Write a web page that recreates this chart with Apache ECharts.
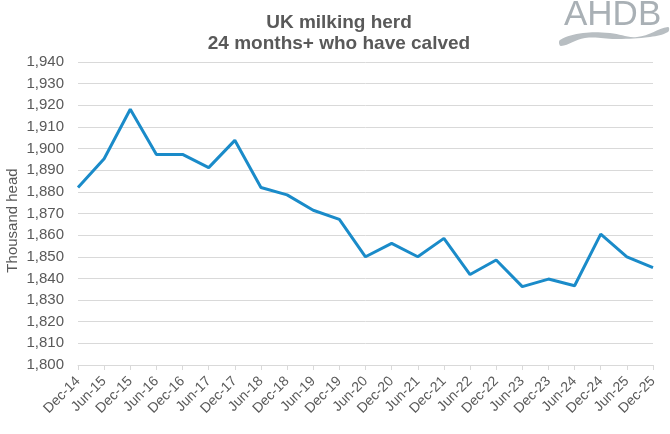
<!DOCTYPE html>
<html>
<head>
<meta charset="utf-8">
<script src="https://cdn.jsdelivr.net/npm/echarts@6/dist/echarts.min.js"></script>
<style>
  html, body { margin: 0; padding: 0; background: #fff; }
  #main { width: 670px; height: 434px; }
</style>
</head>
<body>
<div id="main"></div>
<script>
// half-yearly points, Dec-14 .. Dec-25
var periods = ['Dec-14', 'Jun-15', 'Dec-15', 'Jun-16', 'Dec-16', 'Jun-17', 'Dec-17', 'Jun-18',
  'Dec-18', 'Jun-19', 'Dec-19', 'Jun-20', 'Dec-20', 'Jun-21', 'Dec-21', 'Jun-22', 'Dec-22',
  'Jun-23', 'Dec-23', 'Jun-24', 'Dec-24', 'Jun-25', 'Dec-25'];
var herd = [1882, 1895.3, 1918.2, 1897.3, 1897.3, 1891.2, 1903.8, 1882, 1878.6, 1871.5,
  1867.3, 1850, 1856.2, 1850, 1858.5, 1841.8, 1848.5, 1836.2, 1839.7, 1836.6, 1860.5, 1850, 1845];
var yTicks = { min: 1800, max: 1940, step: 10 };

var grey = '#595959';
var myChart = echarts.init(document.getElementById('main'));

option = {
    animation: false,
    textStyle: { fontFamily: 'Liberation Sans, Arial, sans-serif' },
    title: {
        text: 'UK milking herd\n24 months+ who have calved',
        left: 334,
        textAlign: 'center',
        top: 7,
        textStyle: {
            color: grey,
            fontSize: 19,
            fontWeight: 'bold',
            lineHeight: 21
        }
    },
    grid: { left: 78, right: 17, top: 62, bottom: 69, outerBoundsMode: 'none', containLabel: false },
    xAxis: {
        type: 'category',
        data: periods,
        boundaryGap: false,
        axisLine: { lineStyle: { color: '#d9d9d9' } },
        axisTick: { show: true, length: 5, lineStyle: { color: '#d9d9d9' } },
        axisLabel: {
            interval: 0,
            rotate: 45,
            color: grey,
            fontSize: 14,
            margin: 14
        }
    },
    yAxis: {
        type: 'value',
        min: yTicks.min,
        max: yTicks.max,
        interval: yTicks.step,
        name: 'Thousand head',
        nameLocation: 'middle',
        nameGap: 58,
        nameMoveOverlap: false,
        nameTextStyle: { color: grey, fontSize: 15, padding: [0, 14, 0, 0] },
        axisLine: { show: false },
        axisTick: { show: false },
        splitLine: { lineStyle: { color: '#d9d9d9' } },
        axisLabel: {
            color: grey,
            fontSize: 15,
            margin: 14,
            formatter: function (v) { return echarts.format.addCommas(v); }
        }
    },
    graphic: [
        {
            type: 'text',
            x: 564,
            y: -2,
            style: {
                text: 'AHDB',
                fill: '#a9b0b5',
                font: '35px "Liberation Sans", Arial, sans-serif'
            }
        },
        {
            type: 'polygon',
            shape: {
                smooth: 0.4,
                points: [[560, 40], [583, 33], [610, 33], [637, 37], [668, 27],
                    [668, 32], [650, 37], [617, 39], [585, 38], [561, 46]]
            },
            style: { fill: '#b8bec2' }
        }
    ],
    series: [{
        name: 'UK milking herd',
        type: 'line',
        data: herd,
        symbol: 'none',
        lineStyle: { color: '#1a8bc9', width: 3 }
    }]
};

myChart.setOption(option);
</script>
</body>
</html>
